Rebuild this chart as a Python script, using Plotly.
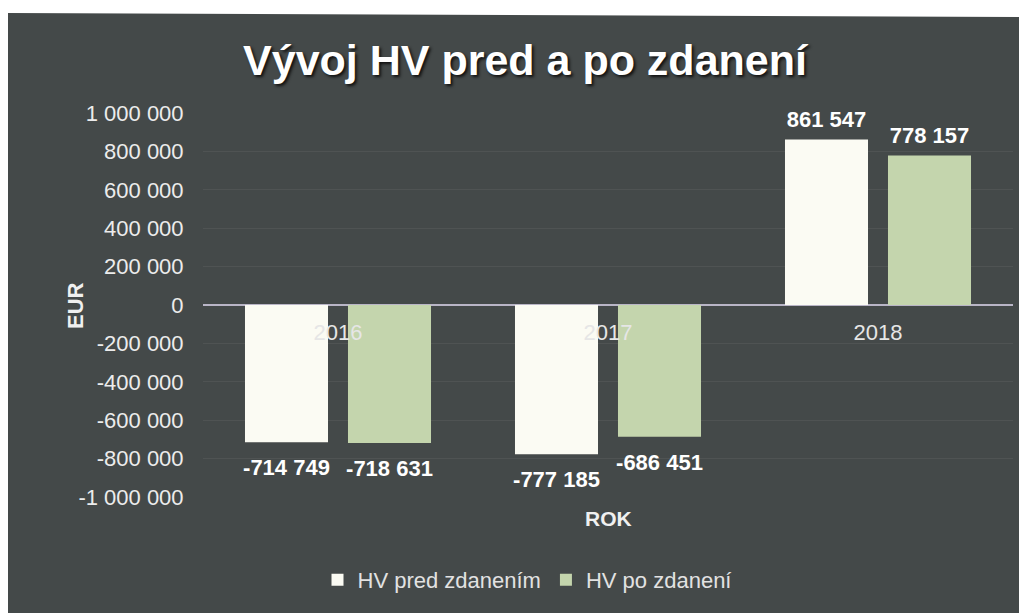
import plotly.graph_objects as go

years = ["2016", "2017", "2018"]
hv_pred = [-714749, -777185, 861547]
hv_po = [-718631, -686451, 778157]
series_names = ["HV pred zdanením", "HV po zdanení"]
series_colors = ["#fbfbf3", "#c4d5ad"]
y_ticks = [1000000, 800000, 600000, 400000, 200000, 0, -200000, -400000,
           -600000, -800000, -1000000]


def fmt(v):
    return f"{v:,}".replace(",", " ")


FONT = "Liberation Sans, Arial, sans-serif"
W, H = 1027, 613
OFF = 8  # page body margin: figure pixel = screen pixel - 8
L, R, T, B = 203 - OFF, 1013 - OFF, 113 - OFF, 497 - OFF


def px(x):
    return (x - OFF - L) / (R - L)


def py(y):
    return (B - (y - OFF)) / (B - T)


fig = go.Figure()
for i, (name, vals, col) in enumerate(zip(series_names, [hv_pred, hv_po], series_colors)):
    fig.add_trace(go.Bar(
        x=years, y=vals, name=name,
        marker=dict(color=col, line=dict(width=0)),
        offsetgroup=str(i), alignmentgroup="g",
    ))
    fig.add_trace(go.Scatter(
        x=years, y=vals, mode="markers+text",
        text=[fmt(v) for v in vals],
        textposition=["top center" if v > 0 else "bottom center" for v in vals],
        marker=dict(size=[10 if v > 0 else 25 for v in vals],
                    color="rgba(0,0,0,0)",
                    line=dict(width=0, color="rgba(0,0,0,0)")),
        textfont=dict(family=FONT, size=22, color="#ffffff", weight="bold"),
        offsetgroup=str(i), alignmentgroup="g",
        showlegend=False, hoverinfo="skip", cliponaxis=False,
    ))

bg_path = (f"M {px(0)},{py(13)} L {px(1040)},{py(17)} "
           f"L {px(1040)},{py(640)} L {px(0)},{py(640)} Z")

fig.update_layout(
    width=W, height=H,
    margin=dict(l=L, r=W - R, t=T, b=H - B),
    paper_bgcolor="#ffffff",
    plot_bgcolor="rgba(0,0,0,0)",
    barmode="group",
    scattermode="group",
    bargap=0.237,
    bargroupgap=0.194,
    font=dict(family=FONT, color="#e6e6e6"),
    title=dict(
        text="<b>Vývoj HV pred a po zdanení</b>",
        x=(525 - OFF) / W, xref="container", xanchor="center",
        y=1 - (60 - OFF) / H, yref="container", yanchor="middle",
        font=dict(family=FONT, size=43, color="#ffffff",
                  shadow="2px 2px 3px #111111"),
    ),
    xaxis=dict(
        type="category",
        anchor="free", position=0.5,
        showline=False, showgrid=False, zeroline=False,
        ticks="outside", ticklen=8, tickcolor="rgba(0,0,0,0)",
        tickfont=dict(family=FONT, size=22, color="#e6e6e6"),
    ),
    yaxis=dict(
        range=[-1000000, 1000000],
        tickvals=y_ticks, ticktext=[fmt(v) for v in y_ticks],
        tickfont=dict(family=FONT, size=22, color="#ececec"),
        ticks="outside", ticklen=14, tickcolor="rgba(0,0,0,0)",
        showgrid=True, gridcolor="rgba(255,255,255,0.06)", gridwidth=1,
        zeroline=True, zerolinecolor="#b9b5c6", zerolinewidth=2,
        showline=False,
    ),
    legend=dict(
        orientation="h", x=px(527), xanchor="center",
        y=py(580), yanchor="middle",
        font=dict(family=FONT, size=22, color="#e2e2e2"),
        bgcolor="rgba(0,0,0,0)", itemwidth=30,
    ),
    shapes=[dict(
        type="path", path=bg_path, xref="paper", yref="paper",
        fillcolor="#444949", line=dict(width=0), layer="below",
    )],
    annotations=[
        dict(text="<b>EUR</b>", x=px(75), y=py(306), xref="paper", yref="paper",
             xanchor="center", yanchor="middle",
             textangle=-90, showarrow=False,
             font=dict(family=FONT, size=22, color="#f0f0f0")),
        dict(text="<b>ROK</b>", x=px(608), y=py(518), xref="paper", yref="paper",
             xanchor="center", yanchor="middle",
             showarrow=False,
             font=dict(family=FONT, size=21, color="#f0f0f0")),
    ],
    showlegend=True,
)

fig.write_html("out.html")
